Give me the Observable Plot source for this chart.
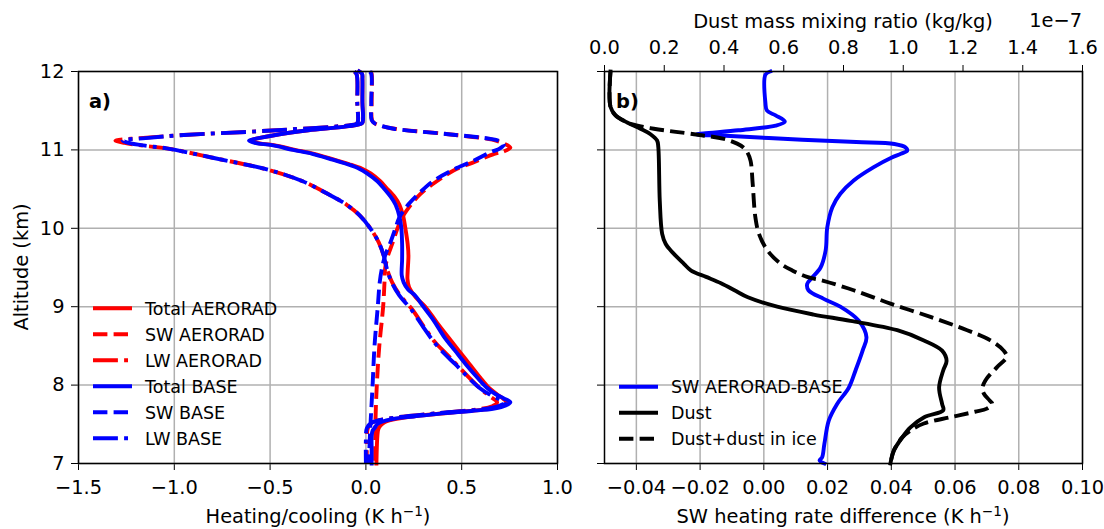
<!DOCTYPE html>
<html>
<head>
<meta charset="utf-8">
<script src="https://cdn.jsdelivr.net/npm/d3@7"></script>
<script src="https://cdn.jsdelivr.net/npm/@observablehq/plot@0.6"></script>
<style>
  body { margin: 0; background: #fff; }
  #fig { position: relative; width: 1104px; height: 529px; overflow: hidden; background: #fff; }
  #fig svg { position: absolute; top: 0; }
</style>
</head>
<body>
<div id="fig"></div>
<script>
// ---------------------------------------------------------------
// Panel a) heating / cooling profiles, pairs of [K h-1, altitude km]
// ---------------------------------------------------------------
const totalAerorad = [[-0.035,12.0],[-0.02,11.97],[-0.018,11.9],[-0.018,11.6],[-0.015,11.4],[-0.02,11.34],[-0.1,11.30],[-0.3,11.25],[-0.45,11.2],[-0.56,11.15],[-0.60,11.12],[-0.57,11.09],[-0.48,11.06],[-0.37,11.0],[-0.27,10.95],[-0.17,10.88],[-0.09,10.82],[-0.02,10.76],[0.025,10.70],[0.075,10.6],[0.105,10.52],[0.15,10.4],[0.175,10.3],[0.195,10.15],[0.206,10.0],[0.218,9.8],[0.222,9.65],[0.218,9.45],[0.217,9.35],[0.225,9.25],[0.26,9.12],[0.31,9.0],[0.37,8.8],[0.43,8.61],[0.485,8.44],[0.54,8.27],[0.595,8.1],[0.64,7.97],[0.685,7.88],[0.715,7.83],[0.735,7.78],[0.705,7.73],[0.62,7.69],[0.45,7.65],[0.28,7.61],[0.16,7.57],[0.1,7.53],[0.078,7.49],[0.065,7.44],[0.06,7.35],[0.057,7.2],[0.055,7.0]];
const swAerorad = [[0.025,12.0],[0.03,11.97],[0.03,11.6],[0.032,11.38],[0.045,11.34],[0.075,11.31],[0.15,11.27],[0.43,11.2],[0.66,11.13],[0.72,11.08],[0.754,11.03],[0.72,10.98],[0.67,10.95],[0.57,10.85],[0.46,10.74],[0.37,10.6],[0.285,10.44],[0.235,10.3],[0.19,10.14],[0.165,10.0],[0.14,9.82],[0.115,9.65],[0.10,9.48],[0.097,9.31],[0.09,9.0],[0.07,8.5],[0.057,8.0],[0.05,7.55],[0.048,7.0]];
const lwAerorad = [[-0.06,12.0],[-0.048,11.96],[-0.045,11.6],[-0.042,11.36],[-0.05,11.33],[-0.15,11.30],[-0.4,11.26],[-0.62,11.23],[-0.95,11.19],[-1.18,11.15],[-1.307,11.12],[-1.26,11.09],[-1.15,11.05],[-1.04,11.02],[-0.80,10.9],[-0.50,10.74],[-0.33,10.6],[-0.20,10.44],[-0.10,10.3],[-0.03,10.16],[0.023,10.0],[0.067,9.82],[0.093,9.65],[0.11,9.48],[0.137,9.31],[0.18,9.14],[0.24,8.97],[0.31,8.72],[0.36,8.55],[0.42,8.4],[0.47,8.27],[0.59,7.97],[0.645,7.86],[0.685,7.78],[0.66,7.73],[0.58,7.69],[0.37,7.64],[0.11,7.57],[0.03,7.52],[0.01,7.45],[0.005,7.3],[0.005,7.0]];
const totalBase = [[-0.035,12.0],[-0.02,11.97],[-0.018,11.9],[-0.018,11.6],[-0.015,11.4],[-0.02,11.34],[-0.1,11.30],[-0.3,11.25],[-0.45,11.2],[-0.56,11.15],[-0.61,11.12],[-0.58,11.09],[-0.49,11.06],[-0.38,11.0],[-0.28,10.95],[-0.18,10.88],[-0.10,10.82],[-0.035,10.76],[0.006,10.70],[0.06,10.6],[0.09,10.52],[0.13,10.4],[0.155,10.3],[0.175,10.15],[0.185,10.0],[0.189,9.8],[0.189,9.6],[0.187,9.4],[0.197,9.31],[0.22,9.22],[0.258,9.14],[0.30,9.0],[0.355,8.82],[0.41,8.61],[0.465,8.44],[0.52,8.27],[0.58,8.1],[0.63,7.97],[0.68,7.88],[0.72,7.83],[0.754,7.78],[0.73,7.74],[0.67,7.70],[0.55,7.67],[0.40,7.64],[0.25,7.60],[0.145,7.57],[0.08,7.53],[0.058,7.5],[0.045,7.45],[0.035,7.42],[0.03,7.35],[0.03,7.2],[0.03,7.0]];
const swBase = [[0.02,12.0],[0.028,11.97],[0.028,11.6],[0.03,11.38],[0.045,11.34],[0.075,11.31],[0.145,11.27],[0.43,11.2],[0.65,11.14],[0.70,11.11],[0.72,11.07],[0.70,11.02],[0.65,10.97],[0.56,10.86],[0.45,10.74],[0.35,10.6],[0.275,10.44],[0.22,10.3],[0.175,10.14],[0.154,10.0],[0.128,9.82],[0.10,9.65],[0.083,9.48],[0.072,9.31],[0.062,9.0],[0.045,8.5],[0.035,8.0],[0.025,7.55],[0.02,7.3],[0.015,7.0]];
const lwBase = [[-0.06,12.0],[-0.048,11.96],[-0.045,11.6],[-0.042,11.36],[-0.05,11.33],[-0.15,11.30],[-0.4,11.26],[-0.62,11.23],[-0.95,11.19],[-1.15,11.15],[-1.27,11.12],[-1.24,11.09],[-1.14,11.05],[-1.04,11.02],[-0.80,10.9],[-0.50,10.74],[-0.33,10.6],[-0.20,10.44],[-0.10,10.3],[-0.03,10.16],[0.023,10.0],[0.067,9.82],[0.093,9.65],[0.11,9.48],[0.135,9.31],[0.175,9.14],[0.235,8.97],[0.305,8.72],[0.355,8.55],[0.41,8.4],[0.465,8.27],[0.59,7.97],[0.66,7.86],[0.725,7.78],[0.70,7.74],[0.63,7.70],[0.37,7.64],[0.11,7.57],[0.03,7.52],[0.005,7.45],[0.0,7.3],[0.0,7.0]];

// ---------------------------------------------------------------
// Panel b) SW heating-rate difference [K h-1, km] and dust mass
// mixing ratio in units of 1e-7 kg/kg [value, km]
// ---------------------------------------------------------------
const swDiff = [[0.002,12.0],[0.0005,11.96],[0.0005,11.6],[0.001,11.5],[0.0037,11.44],[0.0066,11.36],[0.0037,11.31],[-0.008,11.25],[-0.021,11.198],[-0.012,11.18],[0.012,11.13],[0.029,11.10],[0.041,11.075],[0.0445,11.03],[0.045,10.99],[0.043,10.95],[0.040,10.9],[0.0345,10.78],[0.0282,10.61],[0.024,10.44],[0.0215,10.27],[0.0199,10.01],[0.0194,9.72],[0.0178,9.50],[0.0149,9.36],[0.0136,9.29],[0.014,9.21],[0.0188,9.10],[0.024,9.0],[0.0298,8.82],[0.0322,8.61],[0.031,8.44],[0.0288,8.19],[0.0267,7.97],[0.023,7.76],[0.0204,7.55],[0.019,7.25],[0.0183,7.08],[0.0175,7.04],[0.019,7.0]];
const dust = [[0.02,12.0],[0.02,11.55],[0.037,11.44],[0.076,11.35],[0.12,11.27],[0.154,11.2],[0.176,11.12],[0.18,11.04],[0.185,10.35],[0.193,9.93],[0.205,9.8],[0.221,9.72],[0.265,9.55],[0.29,9.46],[0.34,9.38],[0.39,9.3],[0.44,9.2],[0.48,9.12],[0.578,9.0],[0.70,8.9],[0.823,8.82],[0.98,8.70],[1.069,8.57],[1.13,8.44],[1.145,8.31],[1.134,8.19],[1.12,7.97],[1.13,7.76],[1.134,7.68],[1.07,7.59],[1.024,7.46],[0.996,7.33],[0.968,7.16],[0.957,7.0]];
const dustInIce = [[0.02,12.0],[0.02,11.55],[0.037,11.44],[0.076,11.35],[0.09,11.33],[0.165,11.27],[0.30,11.2],[0.40,11.14],[0.444,11.08],[0.465,11.03],[0.478,10.97],[0.489,10.86],[0.496,10.57],[0.505,10.14],[0.517,9.93],[0.545,9.72],[0.589,9.55],[0.63,9.46],[0.678,9.38],[0.733,9.33],[0.834,9.21],[0.957,9.04],[1.091,8.87],[1.214,8.70],[1.292,8.57],[1.336,8.44],[1.346,8.36],[1.314,8.23],[1.275,8.06],[1.265,7.96],[1.27,7.89],[1.29,7.80],[1.298,7.76],[1.28,7.70],[1.24,7.66],[1.158,7.59],[1.069,7.51],[1.024,7.42],[0.996,7.33],[0.968,7.16],[0.957,7.0]];

// Tick values
const altTicks = [7, 8, 9, 10, 11, 12];
const heatTicks = [-1.5, -1.0, -0.5, 0.0, 0.5, 1.0];
const diffTicks = [-0.04, -0.02, 0.0, 0.02, 0.04, 0.06, 0.08, 0.10];
const dustTicks = [0, 0.2, 0.4, 0.6, 0.8, 1.0, 1.2, 1.4, 1.6];

// Legend labels
const leftLabels = ["Total AERORAD", "SW AERORAD", "LW AERORAD", "Total BASE", "SW BASE", "LW BASE"];
const rightLabels = ["SW AERORAD-BASE", "Dust", "Dust+dust in ice"];

// ---------------------------------------------------------------
const RED = "#ff0000", BLUE = "#0000ff", BLACK = "#000000";
const LW = 3.9;
const DASH = "14.4,6.2";
const DASHDOT = "24.9,6.2,3.9,6.2";
const GRID = "#b0b0b0";
const FONT = "DejaVu Sans";

const baseStyle = {
  fontFamily: FONT, fontSize: "19.4px", color: "black",
  background: "transparent", overflow: "visible"
};
const frameOpts = {height: 529, marginTop: 71, marginBottom: 66, style: baseStyle};

function profile(data, stroke, dash) {
  return Plot.line(data, {
    x: d => d[0], y: d => d[1],
    stroke, strokeWidth: LW,
    strokeDasharray: dash || null,
    strokeLinecap: dash ? "butt" : "square",
    strokeLinejoin: "round",
    curve: "catmull-rom"
  });
}

const fig = document.getElementById("fig");

// Panel a)
const left = Plot.plot({
  ...frameOpts,
  width: 580, marginLeft: 78, marginRight: 23,
  x: {domain: [-1.5, 1.0], ticks: heatTicks, tickFormat: d3.format(".1f"), tickSize: 7, tickPadding: 9.5, label: null},
  y: {domain: [7, 12], ticks: altTicks, tickFormat: d3.format("d"), tickSize: 7, tickPadding: 7, label: null},
  marks: [
    Plot.ruleX(heatTicks, {stroke: GRID, strokeWidth: 1.5}),
    Plot.ruleY(altTicks, {stroke: GRID, strokeWidth: 1.5}),
    profile(totalAerorad, RED),
    profile(swAerorad, RED, DASH),
    profile(lwAerorad, RED, DASHDOT),
    profile(totalBase, BLUE),
    profile(swBase, BLUE, DASH),
    profile(lwBase, BLUE, DASHDOT),
    Plot.frame({stroke: "black", strokeWidth: 1.5})
  ]
});
left.style.left = "0px";
fig.appendChild(left);

// Panel b) bottom axis: heating-rate difference
const rightBase = Plot.plot({
  ...frameOpts,
  width: 524, marginLeft: 24, marginRight: 22,
  x: {domain: [-0.05, 0.10], ticks: diffTicks, tickFormat: d3.format(".2f"), tickSize: 7, tickPadding: 9.5, label: null},
  y: {domain: [7, 12], ticks: altTicks, tickFormat: () => "", tickSize: 7, tickPadding: 7, label: null},
  marks: [
    Plot.ruleX(diffTicks, {stroke: GRID, strokeWidth: 1.5}),
    Plot.ruleY(altTicks, {stroke: GRID, strokeWidth: 1.5}),
    profile(swDiff, BLUE),
    Plot.frame({stroke: "black", strokeWidth: 1.5})
  ]
});
rightBase.style.left = "580px";
fig.appendChild(rightBase);

// Panel b) top axis: dust mass mixing ratio (twin axis)
const rightTop = Plot.plot({
  ...frameOpts,
  width: 524, marginLeft: 24, marginRight: 22,
  x: {domain: [0, 1.6], axis: "top", ticks: dustTicks, tickFormat: d3.format(".1f"), tickSize: 7, tickPadding: 10.7, label: null},
  y: {domain: [7, 12], axis: null},
  marks: [
    profile(dust, BLACK),
    profile(dustInIce, BLACK, DASH)
  ]
});
rightTop.style.left = "580px";
fig.appendChild(rightTop);

// Labels, panel letters and legends
const ann = d3.create("svg")
  .attr("width", 1104).attr("height", 529)
  .style("left", "0px").style("pointer-events", "none")
  .attr("font-family", FONT).attr("fill", "black");

function unitLabel(x, y, prefix) {
  const t = ann.append("text").attr("x", x).attr("y", y)
    .attr("text-anchor", "middle").attr("font-size", 19.4);
  t.append("tspan").text(prefix + "(K h");
  t.append("tspan").attr("font-size", 13.6).attr("dy", -7.5).text("\u22121");
  t.append("tspan").attr("dy", 7.5).text(")");
}
unitLabel(318, 523, "Heating/cooling ");
unitLabel(843, 523, "SW heating rate difference ");

ann.append("text").attr("transform", "translate(28,267) rotate(-90)")
  .attr("text-anchor", "middle").attr("font-size", 19.4).text("Altitude (km)");
ann.append("text").attr("x", 843).attr("y", 28)
  .attr("text-anchor", "middle").attr("font-size", 19.4).text("Dust mass mixing ratio (kg/kg)");
ann.append("text").attr("x", 1082).attr("y", 27)
  .attr("text-anchor", "end").attr("font-size", 19.4).text("1e\u22127");
ann.append("text").attr("x", 89).attr("y", 108)
  .attr("font-size", 19.4).attr("font-weight", "bold").text("a)");
ann.append("text").attr("x", 616).attr("y", 108)
  .attr("font-size", 19.4).attr("font-weight", "bold").text("b)");

function legend(labels, styles, x0, y0) {
  labels.forEach((label, i) => {
    const y = y0 + i * 26;
    const [color, dash] = styles[i];
    ann.append("line")
      .attr("x1", x0).attr("x2", x0 + 39).attr("y1", y).attr("y2", y)
      .attr("stroke", color).attr("stroke-width", LW)
      .attr("stroke-dasharray", dash || null);
    ann.append("text").attr("x", x0 + 52).attr("y", y + 6.5)
      .attr("font-size", 17.5).text(label);
  });
}
legend(leftLabels,
  [[RED], [RED, DASH], [RED, DASHDOT], [BLUE], [BLUE, DASH], [BLUE, DASHDOT]],
  93, 308.3);
legend(rightLabels, [[BLUE], [BLACK], [BLACK, DASH]], 619, 386.7);

fig.appendChild(ann.node());
</script>
</body>
</html>
